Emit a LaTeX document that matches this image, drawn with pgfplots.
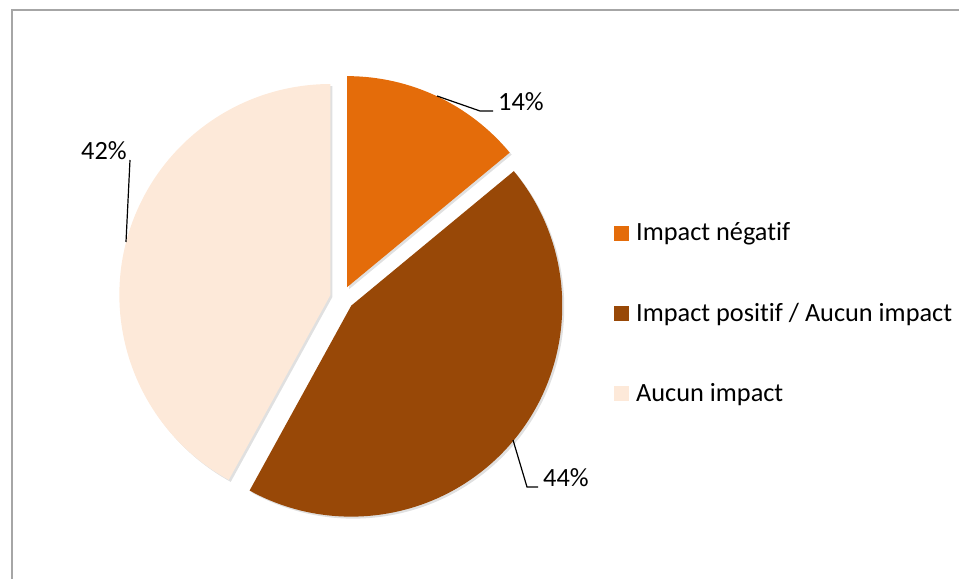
\documentclass[border=0pt]{standalone}
\usepackage{pgfplots}
\pgfplotsset{compat=1.18}
\usepackage{fontspec}
\setmainfont{Carlito}[Ligatures={NoCommon,NoRequired,NoContextual}]
\definecolor{sliceA}{HTML}{E46C0A}
\definecolor{sliceB}{HTML}{984807}
\definecolor{sliceC}{HTML}{FDE9D9}
\definecolor{frameg}{HTML}{A6A6A6}
% data (percent)
\def\vA{14}\def\vB{44}\def\vC{42}
\def\cx{342}\def\cy{281}\def\R{211}\def\D{12}
\pgfmathsetmacro\aS{90}
\pgfmathsetmacro\aE{\aS-\vA*3.6}
\pgfmathsetmacro\bE{\aE-\vB*3.6}
\pgfmathsetmacro\cE{\bE-\vC*3.6}
\pgfmathsetmacro\oxA{\cx+\D*cos((\aS+\aE)/2)}\pgfmathsetmacro\oyA{\cy+\D*sin((\aS+\aE)/2)}
\pgfmathsetmacro\oxB{\cx+\D*cos((\aE+\bE)/2)}\pgfmathsetmacro\oyB{\cy+\D*sin((\aE+\bE)/2)}
\pgfmathsetmacro\oxC{\cx+\D*cos((\bE+\cE)/2)}\pgfmathsetmacro\oyC{\cy+\D*sin((\bE+\cE)/2)}
\begin{document}
\begin{tikzpicture}
\begin{axis}[width=959bp,height=579bp,scale only axis,
  xmin=0,xmax=959,ymin=0,ymax=579,hide axis,clip=false]
% frame
\addplot[draw=frameg, line width=2bp, line cap=rect] coordinates {(12,-5) (12,569) (965,569)};
% shadows
\fill[black,opacity=0.12] (axis cs:\oxA+2,\oyA-2) -- ++(\aS:\R bp) arc[start angle=\aS,end angle=\aE,radius=\R bp] -- cycle;
\fill[black,opacity=0.12] (axis cs:\oxB+2,\oyB-2) -- ++(\aE:\R bp) arc[start angle=\aE,end angle=\bE,radius=\R bp] -- cycle;
\fill[black,opacity=0.12] (axis cs:\oxC+2,\oyC-2) -- ++(\bE:\R bp) arc[start angle=\bE,end angle=\cE,radius=\R bp] -- cycle;
% slices
\fill[sliceA] (axis cs:\oxA,\oyA) -- ++(\aS:\R bp) arc[start angle=\aS,end angle=\aE,radius=\R bp] -- cycle;
\fill[sliceB] (axis cs:\oxB,\oyB) -- ++(\aE:\R bp) arc[start angle=\aE,end angle=\bE,radius=\R bp] -- cycle;
\fill[sliceC] (axis cs:\oxC,\oyC) -- ++(\bE:\R bp) arc[start angle=\bE,end angle=\cE,radius=\R bp] -- cycle;
% leader lines
\addplot[black, line width=1.2bp] coordinates {(437,483) (480,468) (493,468)};
\addplot[black, line width=1.2bp] coordinates {(130,419) (126,337)};
\addplot[black, line width=1.2bp] coordinates {(513,139) (527,92) (538,92)};
% data labels
\node[anchor=base west, inner sep=0pt, font=\fontsize{26.3bp}{31bp}\selectfont] at (axis cs:498,468) {14\%};
\node[anchor=base west, inner sep=0pt, font=\fontsize{26.3bp}{31bp}\selectfont] at (axis cs:81,419) {42\%};
\node[anchor=base west, inner sep=0pt, font=\fontsize{26.3bp}{31bp}\selectfont] at (axis cs:543,92) {44\%};
% legend
\fill[sliceA] (axis cs:614,338) rectangle (axis cs:629,353);
\fill[sliceB] (axis cs:614,257.5) rectangle (axis cs:629,272.5);
\fill[sliceC] (axis cs:614,177.5) rectangle (axis cs:629,192.5);
\node[anchor=base west, inner sep=0pt, font=\fontsize{26.3bp}{31bp}\selectfont] at (axis cs:636,338) {Impact négatif};
\node[anchor=base west, inner sep=0pt, font=\fontsize{26.3bp}{31bp}\selectfont] at (axis cs:636,257.3) {Impact positif / Aucun impact};
\node[anchor=base west, inner sep=0pt, font=\fontsize{26.3bp}{31bp}\selectfont] at (axis cs:636,177.3) {Aucun impact};
\end{axis}
\pgfresetboundingbox
\useasboundingbox (current axis.south west) rectangle (current axis.north east);
\end{tikzpicture}
\end{document}
